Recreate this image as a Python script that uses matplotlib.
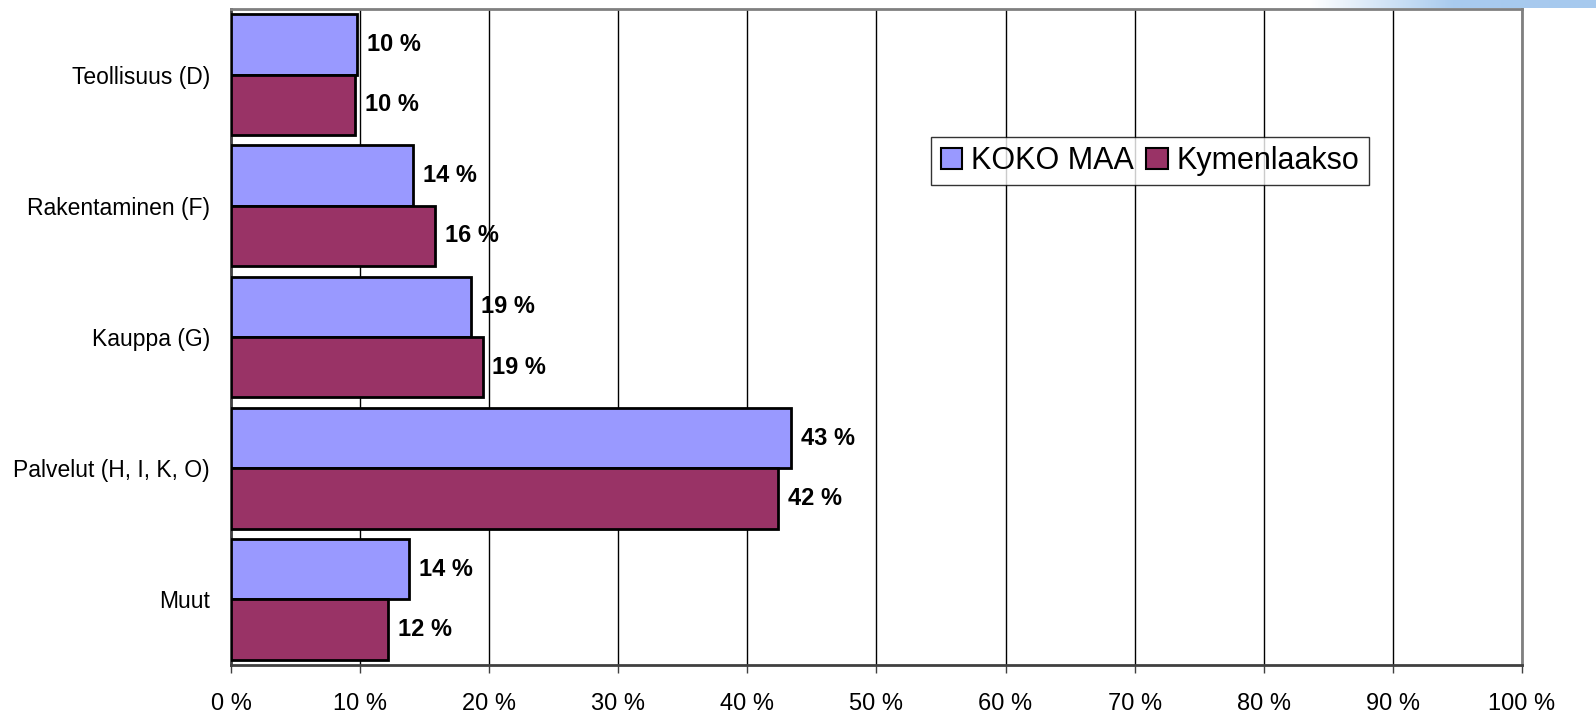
import numpy as np
import matplotlib
matplotlib.use('Agg')
import matplotlib.pyplot as plt
from matplotlib.ticker import FuncFormatter
from matplotlib.colors import LinearSegmentedColormap

plt.rcParams['font.family'] = ['Liberation Sans', 'DejaVu Sans']

categories = ['Teollisuus (D)', 'Rakentaminen (F)', 'Kauppa (G)', 'Palvelut (H, I, K, O)', 'Muut']
koko_maa = [9.8, 14.1, 18.6, 43.4, 13.8]
kymenlaakso = [9.6, 15.8, 19.5, 42.4, 12.2]
koko_maa_labels = ['10 %', '14 %', '19 %', '43 %', '14 %']
kymenlaakso_labels = ['10 %', '16 %', '19 %', '42 %', '12 %']
series_names = ['KOKO MAA', 'Kymenlaakso']
colors = ['#9999ff', '#993366']

fig = plt.figure(figsize=(15.96, 7.14), dpi=100)
ax = fig.add_axes([0.1447, 0.0686, 0.8089, 0.9188])

# top-right gradient strip
gax = fig.add_axes([0.82, 0.9885, 0.18, 0.0115])
grad = np.linspace(0, 1, 256).reshape(1, -1)
cmap = LinearSegmentedColormap.from_list('g', ['#ffffff', '#a9cbee', '#a6c9ee'])
gax.imshow(grad, aspect='auto', cmap=cmap)
gax.axis('off')

y = np.arange(len(categories))
h = 0.46
ax.barh(y - h / 2, koko_maa, height=h, color=colors[0], edgecolor='black', linewidth=2, label=series_names[0], zorder=3)
ax.barh(y + h / 2, kymenlaakso, height=h, color=colors[1], edgecolor='black', linewidth=2, label=series_names[1], zorder=3)

for i in range(len(categories)):
    ax.annotate(koko_maa_labels[i], (koko_maa[i], y[i] - h / 2), xytext=(7, 0),
                textcoords='offset points', va='center', ha='left', fontsize=17, fontweight='bold', zorder=4)
    ax.annotate(kymenlaakso_labels[i], (kymenlaakso[i], y[i] + h / 2), xytext=(7, 0),
                textcoords='offset points', va='center', ha='left', fontsize=17, fontweight='bold', zorder=4)

ax.set_xlim(0, 100)
ax.set_ylim(len(categories) - 0.5, -0.5)
ax.set_xticks(np.arange(0, 101, 10))
ax.xaxis.set_major_formatter(FuncFormatter(lambda v, p: '%d %%' % v))
ax.set_yticks(y)
ax.set_yticklabels(categories)
ax.tick_params(axis='y', length=0, pad=15, labelsize=16.5)
ax.tick_params(axis='x', length=6, width=1, color='#404040', pad=14, labelsize=17)
ax.grid(axis='x', color='black', linewidth=1, zorder=0)

for s in ['top', 'right']:
    ax.spines[s].set_color('#808080')
    ax.spines[s].set_linewidth(2)
for s in ['left', 'bottom']:
    ax.spines[s].set_color('#404040')
    ax.spines[s].set_linewidth(2)

leg = ax.legend(loc='center', bbox_to_anchor=(0.712, 0.768), ncol=2, fontsize=22,
                frameon=True, fancybox=False, edgecolor='black', handlelength=0.7,
                handleheight=0.7, handletextpad=0.3, columnspacing=0.4, borderpad=0.3,
                borderaxespad=0)
leg.get_frame().set_linewidth(1)
for p in leg.get_patches():
    p.set_linewidth(1.5)

fig.savefig('out.png', dpi=100)
